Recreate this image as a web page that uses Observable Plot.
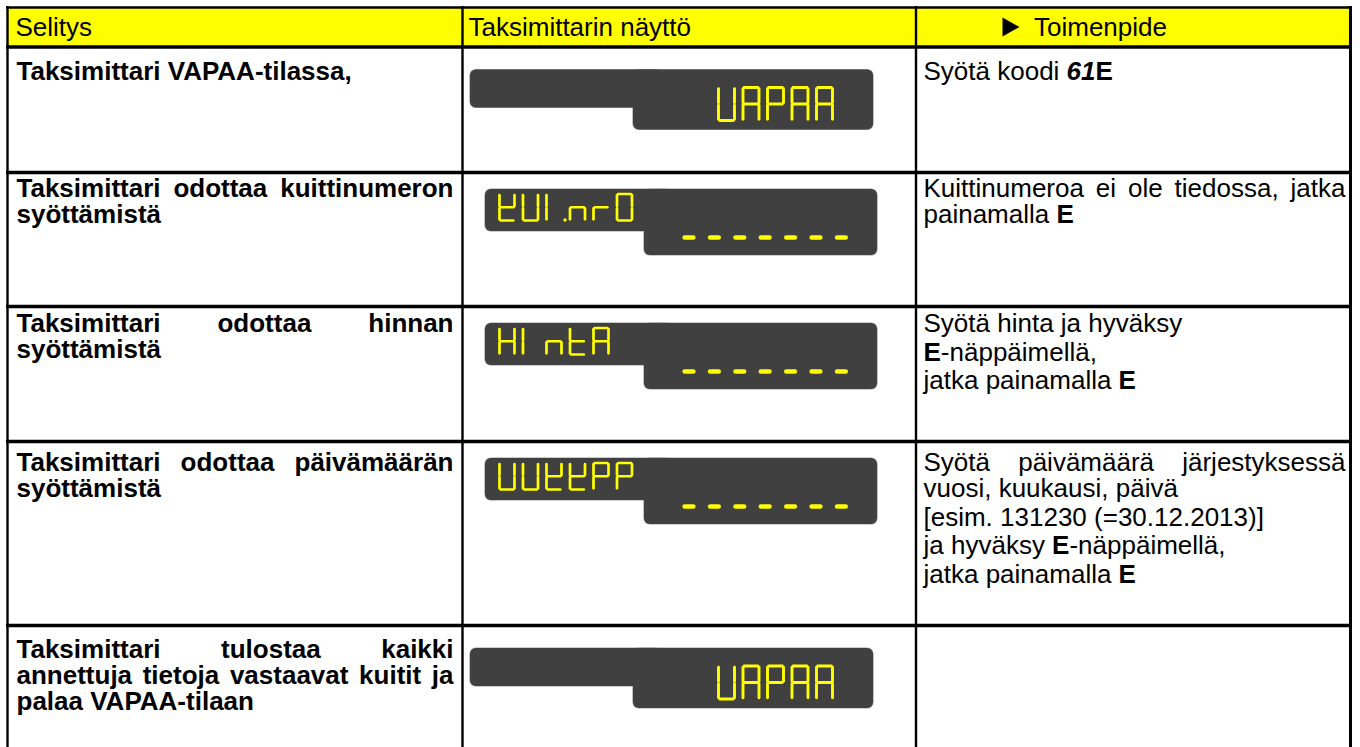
<!DOCTYPE html>
<html>
<head>
<meta charset="utf-8">
<script src="https://cdn.jsdelivr.net/npm/d3@7"></script>
<script src="https://cdn.jsdelivr.net/npm/@observablehq/plot@0.6"></script>
<style>
html, body { margin: 0; padding: 0; background: #ffffff; }
#chart svg { display: block; }
</style>
</head>
<body>
<div id="chart"></div>
<script>
// ---------------- data ----------------
const headers = ["Selitys", "Taksimittarin näyttö", "Toimenpide"];
const descriptions = [
  ["Taksimittari VAPAA-tilassa,"],
  ["Taksimittari odottaa kuittinumeron syöttämistä"],
  ["Taksimittari odottaa hinnan syöttämistä"],
  ["Taksimittari odottaa päivämäärän syöttämistä"],
  ["Taksimittari tulostaa kaikki annettuja tietoja vastaavat kuitit ja palaa VAPAA-tilaan"]
];
const displayUpper = ["", "KUI.nrO", "HIntA", "VVKKPP", ""];
const displayLower = ["VAPAA", "-------", "-------", "-------", "VAPAA"];
// *...* = bold, _..._ = italic
const actions = [
  ["Syötä koodi *_61_E*"],
  ["Kuittinumeroa ei ole tiedossa, jatka painamalla *E*"],
  ["Syötä hinta ja hyväksy", "*E*-näppäimellä,", "jatka painamalla *E*"],
  ["Syötä päivämäärä järjestyksessä vuosi, kuukausi, päivä", "[esim. 131230 (=30.12.2013)]", "ja hyväksy *E*-näppäimellä,", "jatka painamalla *E*"],
  []
];
// seven-segment glyph table (segments a..g)
const segmentGlyphs = {
  "V": "bcdef", "U": "bcdef", "A": "abcefg", "P": "abefg", "K": "bdefg",
  "I": "ef", "n": "ceg", "r": "eg", "O": "abcdef", "H": "bcefg", "t": "defg",
  "-": "g", " ": ""
};

// ---------------- layout ----------------
const W = 1360, H = 747;
const colEdges = [7, 462, 915.5, 1350];
const rowEdges = [7, 46.5, 172, 306, 441, 625, H];
const FONT = '"Liberation Sans", Arial, Helvetica, sans-serif';
const FS = 26, LINE = 26, PARA = 2.5;
const firstBaseline = [32.5, 24, 25.5, 29.5, 32.5];
const textCols = [
  {x0: colEdges[0] + 9, x1: colEdges[1] - 9, bold: true},
  {x0: colEdges[2] + 7.5, x1: colEdges[3] - 5, bold: false}
];

const ctx = document.createElement("canvas").getContext("2d");
function measure(t, b, it) {
  ctx.font = `${it ? "italic " : ""}${b ? "bold " : ""}${FS}px "Liberation Sans"`;
  return ctx.measureText(t).width;
}
function parseRuns(s, baseBold) {
  const runs = []; let b = baseBold, it = false, cur = "";
  for (const ch of s) {
    if (ch === "*" || ch === "_") {
      if (cur) runs.push({t: cur, b, it});
      cur = "";
      if (ch === "*") b = !b; else it = !it;
    } else cur += ch;
  }
  if (cur) runs.push({t: cur, b, it});
  return runs;
}
function toWords(runs) {
  const words = [[]];
  for (const r of runs) {
    r.t.split(" ").forEach((part, k) => {
      if (k > 0) words.push([]);
      if (part) words[words.length - 1].push({t: part, b: r.b, it: r.it, w: measure(part, r.b, r.it)});
    });
  }
  return words.filter(w => w.length).map(pieces => ({pieces, w: d3.sum(pieces, p => p.w)}));
}
function layoutParagraph(par, bold, x0, x1) {
  const words = toWords(parseRuns(par, bold));
  const space = measure(" ", bold, false);
  const avail = x1 - x0;
  const lines = []; let cur = [], curW = 0;
  for (const w of words) {
    const add = cur.length ? space + w.w : w.w;
    if (cur.length && curW + add > avail) { lines.push(cur); cur = [w]; curW = w.w; }
    else { cur.push(w); curW += add; }
  }
  if (cur.length) lines.push(cur);
  return lines.map((ws, li) => {
    const last = li === lines.length - 1;
    const total = d3.sum(ws, w => w.w);
    const gap = !last && ws.length > 1 ? (avail - total) / (ws.length - 1) : space;
    const out = []; let x = x0;
    for (const w of ws) {
      let px = x;
      for (const p of w.pieces) { out.push({...p, x: px}); px += p.w; }
      x += w.w + gap;
    }
    return out;
  });
}

// text items
const textItems = [];
headers.forEach((h, c) => {
  const x = c === 2 ? colEdges[2] + 118 : colEdges[c] + (c === 0 ? 8 : 6);
  textItems.push({text: h, x, y: rowEdges[0] + 28.5, b: false, it: false});
});
[descriptions, actions].forEach((col, k) => {
  const {x0, x1, bold} = textCols[k];
  col.forEach((pars, r) => {
    let y = rowEdges[r + 1] + firstBaseline[r];
    pars.forEach((par, pi) => {
      if (pi) y += PARA;
      for (const line of layoutParagraph(par, bold, x0, x1)) {
        for (const p of line) textItems.push({text: p.t, x: p.x, y, b: p.b, it: p.it});
        y += LINE;
      }
    });
  });
});

// display blocks and seven-segment glyphs
const blocks = [], segs = [], dps = [];
function addGlyphs(str, box) {
  let slot = -1;
  for (const ch of str) {
    if (ch === ".") {
      dps.push({x: box.x + slot * box.pitch + box.w + 3.5, y: box.y + box.h - 0.5});
      continue;
    }
    slot++;
    const x0 = box.x + slot * box.pitch, y0 = box.y, w = box.w, h = box.h, g = 1.2;
    const def = {
      a: [x0 + g, y0, x0 + w - g, y0],
      b: [x0 + w, y0 + g, x0 + w, y0 + h / 2 - g],
      c: [x0 + w, y0 + h / 2 + g, x0 + w, y0 + h - g],
      d: [x0 + g, y0 + h, x0 + w - g, y0 + h],
      e: [x0, y0 + h / 2 + g, x0, y0 + h - g],
      f: [x0, y0 + g, x0, y0 + h / 2 - g],
      g: [x0 + g, y0 + h / 2, x0 + w - g, y0 + h / 2]
    };
    for (const s of segmentGlyphs[ch] ?? "") {
      const [xa, ya, xb, yb] = def[s];
      segs.push({x1: xa, y1: ya, x2: xb, y2: yb, sw: box.sw});
    }
  }
}
displayLower.forEach((lower, r) => {
  const cx = colEdges[1], ry = rowEdges[r + 1];
  const upper = displayUpper[r];
  if (!upper) {
    blocks.push({x1: cx + 8, x2: cx + 200, y1: ry + 23, y2: ry + 61});
    blocks.push({x1: cx + 171, x2: cx + 411, y1: ry + 23, y2: ry + 83});
    addGlyphs(lower, {x: cx + 256, y: ry + 40.5, w: 16, h: 33, pitch: 24.5, sw: 2.9});
  } else {
    blocks.push({x1: cx + 23, x2: cx + 210, y1: ry + 17, y2: ry + 59});
    blocks.push({x1: cx + 182, x2: cx + 415, y1: ry + 17, y2: ry + 83});
    addGlyphs(upper, {x: cx + 37, y: ry + 21.5, w: 15, h: 26.5, pitch: 23.5, sw: 2.7});
    addGlyphs(lower, {x: cx + 221, y: ry + 50, w: 11, h: 30, pitch: 25.4, sw: 4.6});
  }
});

// table lines
const hLines = [
  {y: rowEdges[0], x1: colEdges[0] - 1, x2: colEdges[3] + 1.5, w: 2.5},
  ...rowEdges.slice(1, -1).map(y => ({y, x1: colEdges[0] - 1, x2: colEdges[3] + 1.5, w: 3.4}))
];
const vLines = colEdges.map((x, i) => ({x, y1: rowEdges[0] - 1, y2: H, w: i === 3 ? 3 : 2.4}));
const headerCells = [{x1: colEdges[0], x2: colEdges[3], y1: rowEdges[0], y2: rowEdges[1]}];
const marker = [
  {x: colEdges[2] + 87, ya: rowEdges[0] + 10.5, yb: rowEdges[0] + 29.5},
  {x: colEdges[2] + 104, ya: rowEdges[0] + 20, yb: rowEdges[0] + 20}
];

const textOpts = {x: "x", y: "y", text: "text", textAnchor: "start", lineAnchor: "bottom",
  fontSize: FS, fontFamily: FONT, fill: "#000"};

const chart = Plot.plot({
  width: W, height: H, margin: 0,
  x: {domain: [0, W], range: [0, W], axis: null},
  y: {domain: [0, H], range: [0, H], axis: null},
  style: {background: "#ffffff"},
  marks: [
    Plot.rect(headerCells, {x1: "x1", x2: "x2", y1: "y1", y2: "y2", fill: "#ffff00"}),
    Plot.rect(blocks, {x1: "x1", x2: "x2", y1: "y1", y2: "y2", rx: 6, fill: "#9a9a9a", stroke: "#9a9a9a", strokeWidth: 1.2}),
    Plot.rect(blocks, {x1: "x1", x2: "x2", y1: "y1", y2: "y2", rx: 6, fill: "#404040"}),
    Plot.link(segs, {x1: "x1", y1: "y1", x2: "x2", y2: "y2", stroke: "#ffff00", strokeWidth: "sw", strokeLinecap: "round"}),
    Plot.dot(dps, {x: "x", y: "y", r: 1.7, fill: "#ffff00"}),
    Plot.ruleY(hLines, {y: "y", x1: "x1", x2: "x2", strokeWidth: "w", stroke: "#000"}),
    Plot.ruleX(vLines, {x: "x", y1: "y1", y2: "y2", strokeWidth: "w", stroke: "#000"}),
    Plot.area(marker, {x1: "x", y1: "ya", y2: "yb", fill: "#000", curve: "linear"}),
    Plot.text(textItems.filter(d => !d.b && !d.it), {...textOpts, fontWeight: "normal"}),
    Plot.text(textItems.filter(d => d.b && !d.it), {...textOpts, fontWeight: "bold"}),
    Plot.text(textItems.filter(d => d.b && d.it), {...textOpts, fontWeight: "bold", fontStyle: "italic"})
  ]
});
document.getElementById("chart").appendChild(chart);
</script>
</body>
</html>
